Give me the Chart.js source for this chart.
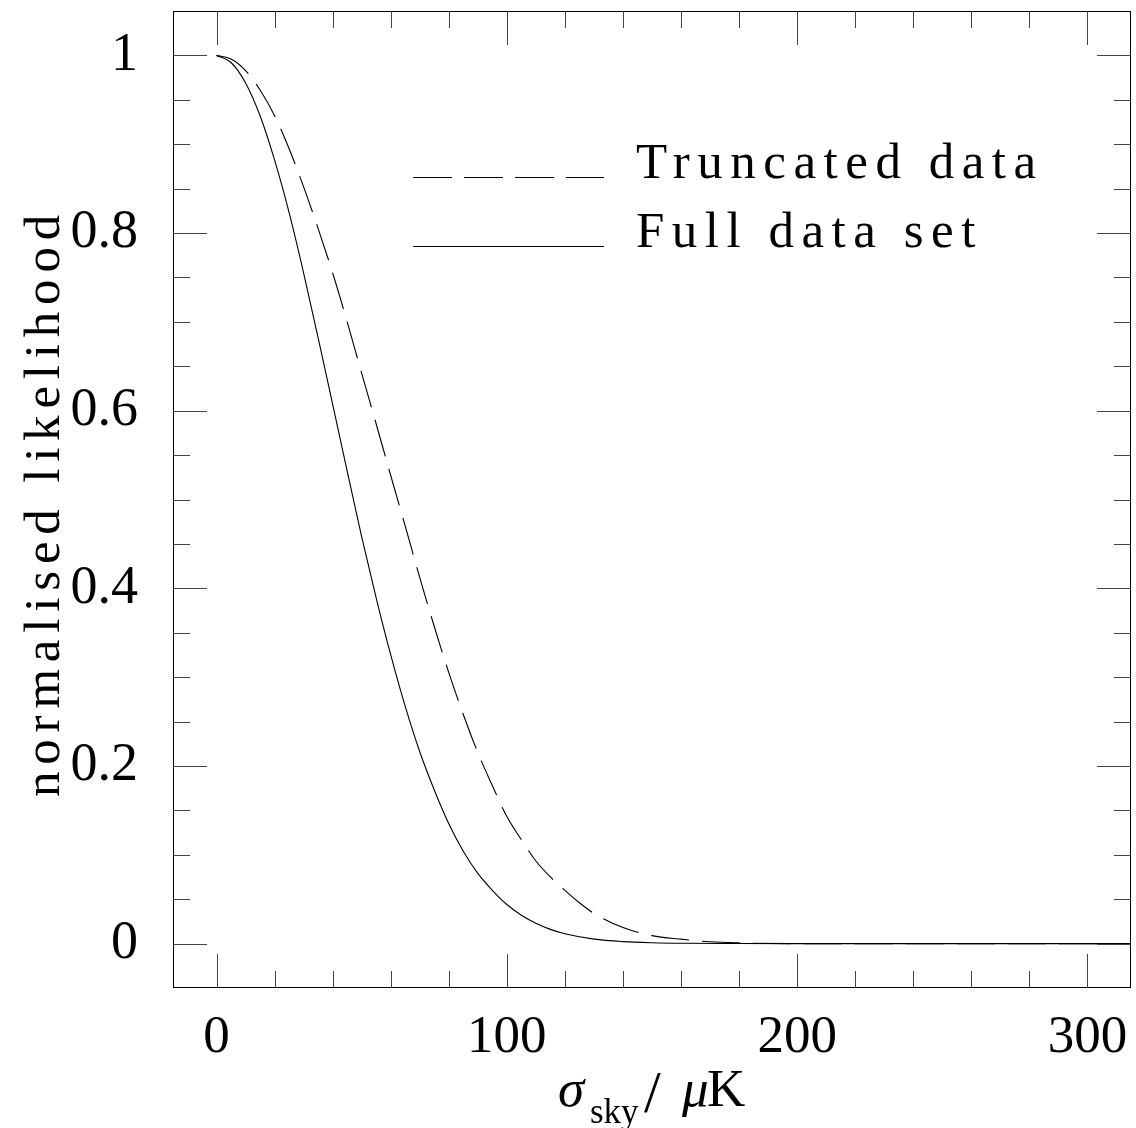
<!DOCTYPE html>
<html>
<head>
<meta charset="utf-8">
<script src="https://cdn.jsdelivr.net/npm/chart.js@4.4.1/dist/chart.umd.min.js"></script>
<style>
  html, body { margin: 0; padding: 0; background: #fff; }
  #wrap { width: 1136px; height: 1128px; }
</style>
</head>
<body>
<div id="wrap"><canvas id="c" width="1136" height="1128"></canvas></div>
<script>
// sigma_sky in muK
const fullSigma = [0, 5, 10, 15, 20, 25, 30, 35, 40, 45, 50, 55, 60, 65, 70, 75, 80, 85, 90, 95,
                   100, 105, 110, 115, 120, 130, 140, 150, 160, 180, 200, 250, 315];
const fullLike  = [1, 0.992, 0.969, 0.932, 0.882, 0.823, 0.755, 0.682, 0.607, 0.532, 0.458, 0.389,
                   0.325, 0.267, 0.216, 0.173, 0.135, 0.104, 0.079, 0.060, 0.044, 0.032, 0.023,
                   0.016, 0.011, 0.005, 0.0022, 0.0009, 0.0003, 0.00005, 0, 0, 0];
const truncSigma = [0, 5, 10, 15, 20, 25, 30, 35, 40, 45, 50, 55, 60, 65, 70, 75, 80, 85, 90, 95,
                    100, 105, 110, 115, 120, 125, 130, 140, 150, 160, 170, 180, 200, 250, 315];
const truncLike  = [1, 0.996, 0.983, 0.961, 0.932, 0.895, 0.852, 0.805, 0.755, 0.70, 0.642, 0.585,
                    0.527, 0.470, 0.412, 0.357, 0.305, 0.258, 0.215, 0.178, 0.143, 0.117, 0.093,
                    0.075, 0.060, 0.046, 0.034, 0.018, 0.009, 0.005, 0.002, 0.0008, 0, 0, 0];

const xTickLabels = [0, 100, 200, 300];
const yTickLabels = [0, 0.2, 0.4, 0.6, 0.8, 1];
const legendNames = ['Truncated data', 'Full data set'];

const serifFont = 'Liberation Serif';

function pts(xs, ys) {
  return xs.map((x, i) => ({ x: x, y: ys[i] }));
}

function noPad(s) {
  s.paddingLeft = 0; s.paddingRight = 0; s.paddingTop = 0; s.paddingBottom = 0;
}

// inward ticks on all four sides, frame, legend and axis titles
const framePlugin = {
  id: 'frame',
  afterDatasetsDraw(chart) {
    const ctx = chart.ctx;
    const a = chart.chartArea;
    const xs = chart.scales.x, ys = chart.scales.y;
    ctx.save();
    ctx.lineWidth = 1;
    ctx.strokeStyle = '#000';
    ctx.strokeRect(a.left + 0.5, a.top + 0.5, a.right - a.left - 1, a.bottom - a.top - 1);

    ctx.strokeStyle = '#444';
    ctx.beginPath();
    for (let v = 0; v <= 300; v += 20) {
      const px = Math.round(xs.getPixelForValue(v)) + 0.5;
      const len = (v % 100 === 0) ? 34 : 17;
      ctx.moveTo(px, a.bottom); ctx.lineTo(px, a.bottom - len);
      ctx.moveTo(px, a.top); ctx.lineTo(px, a.top + len);
    }
    for (let k = 0; k <= 20; k++) {
      const v = k * 0.05;
      const py = Math.round(ys.getPixelForValue(v)) + 0.5;
      const len = (k % 4 === 0) ? 34 : 17;
      ctx.moveTo(a.left, py); ctx.lineTo(a.left + len, py);
      ctx.moveTo(a.right, py); ctx.lineTo(a.right - len, py);
    }
    ctx.stroke();

    // legend
    const lx0 = a.left + 240, lx1 = a.left + 431, tx = a.left + 463;
    const rows = [a.top + 166, a.top + 235];
    ctx.strokeStyle = '#000';
    rows.forEach((ry, i) => {
      ctx.setLineDash(i === 0 ? [39, 12] : []);
      ctx.beginPath();
      ctx.moveTo(lx0, ry + 0.5); ctx.lineTo(lx1, ry + 0.5);
      ctx.stroke();
    });
    ctx.setLineDash([]);
    ctx.fillStyle = '#000';
    ctx.font = '51px "' + serifFont + '"';
    ctx.letterSpacing = '7.5px';
    ctx.textBaseline = 'alphabetic';
    ctx.textAlign = 'left';
    rows.forEach((ry, i) => ctx.fillText(legendNames[i], tx, ry + 1));

    // y title
    ctx.save();
    ctx.translate(59, (a.top + a.bottom) / 2 + 3);
    ctx.rotate(-Math.PI / 2);
    ctx.textAlign = 'center';
    ctx.font = '51px "' + serifFont + '"';
    ctx.letterSpacing = '6.8px';
    ctx.fillText('normalised likelihood', 0, 0);
    ctx.restore();
    ctx.letterSpacing = '0px';

    // x title: sigma_sky / muK
    const mid = (a.left + a.right) / 2;
    const base = 1106;
    const parts = [
      { t: '\u03c3', f: 'italic 53px "' + serifFont + '"', dx: -94, dy: 0 },
      { t: 'sky', f: '35px "' + serifFont + '"', dx: -62, dy: 17 },
      { t: '/', f: '60px "' + serifFont + '"', dx: -8, dy: 6 },
      { t: '\u03bc', f: 'italic 53px "' + serifFont + '"', dx: 30, dy: 0 },
      { t: 'K', f: '53px "' + serifFont + '"', dx: 55, dy: 0 }
    ];
    ctx.textAlign = 'left';
    parts.forEach(p => { ctx.font = p.f; ctx.fillText(p.t, mid + p.dx, base + p.dy); });
    ctx.restore();
  }
};

new Chart(document.getElementById('c'), {
  type: 'line',
  data: {
    datasets: [
      { label: legendNames[0], data: pts(truncSigma, truncLike), borderColor: '#000',
        borderWidth: 1.1, borderDash: [38, 13], pointRadius: 0, cubicInterpolationMode: 'monotone', fill: false },
      { label: legendNames[1], data: pts(fullSigma, fullLike), borderColor: '#000',
        borderWidth: 1.1, pointRadius: 0, cubicInterpolationMode: 'monotone', fill: false }
    ]
  },
  options: {
    responsive: false,
    animation: false,
    devicePixelRatio: 1,
    layout: { padding: { left: 0, right: 5, top: 11, bottom: 0 } },
    plugins: { legend: { display: false }, tooltip: { enabled: false } },
    scales: {
      x: {
        type: 'linear', min: -15, max: 315,
        grid: { display: false }, border: { display: false },
        afterBuildTicks: s => { s.ticks = xTickLabels.map(v => ({ value: v })); },
        afterFit: s => { s.height = 140; noPad(s); },
        ticks: { color: '#000', font: { family: serifFont, size: 53 }, padding: 10,
                 maxRotation: 0, autoSkip: false, callback: v => String(v) }
      },
      y: {
        type: 'linear', min: -0.05, max: 1.05,
        grid: { display: false }, border: { display: false },
        afterBuildTicks: s => { s.ticks = yTickLabels.map(v => ({ value: v })); },
        afterFit: s => { s.width = 173; noPad(s); },
        ticks: { color: '#000', font: { family: serifFont, size: 54 }, padding: 27,
                 autoSkip: false, callback: v => String(v) }
      }
    }
  },
  plugins: [framePlugin]
});
</script>
</body>
</html>
